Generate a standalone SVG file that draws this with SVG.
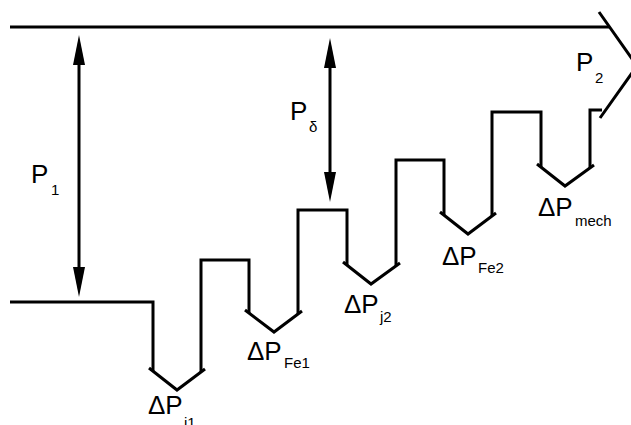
<svg xmlns="http://www.w3.org/2000/svg" width="631" height="425" viewBox="0 0 631 425">
<style>
.ln{fill:none;stroke:#000;stroke-width:3;stroke-linejoin:miter;stroke-linecap:butt}
.ah{fill:#000;stroke:none}
.big{font-family:"Liberation Sans",Arial,sans-serif;font-size:26px;fill:#000}
.sub{font-family:"Liberation Sans",Arial,sans-serif;font-size:15px;fill:#000}
</style>
<rect width="631" height="425" fill="#fff"/>
<g id="power-flow">
<path class="ln" d="M10,27 H610"/>
<polyline class="ln" points="599,12 637,66 600,118"/>
<path class="ln" d="M10,302 H153 V371"/>
<polyline class="ln" points="149,368 177,390 205,369"/>
<path class="ln" d="M201,372 V260 H249 V313"/>
<polyline class="ln" points="245,310 274,332 302,311"/>
<path class="ln" d="M298,314 V210 H347 V265"/>
<polyline class="ln" points="343,262 371,284 400,263"/>
<path class="ln" d="M396,266 V160 H444 V215"/>
<polyline class="ln" points="440,212 468,234 496,213"/>
<path class="ln" d="M492,216 V112 H541 V167"/>
<polyline class="ln" points="537,164 565,186 594,165"/>
<path class="ln" d="M590,168 V110 H602"/>
</g>
<g id="connectors">
<path class="ln" d="M79,60 V272"/>
<polygon class="ah" points="79,35 73,65 85,65"/>
<polygon class="ah" points="79,297 73,267 85,267"/>
<path class="ln" d="M330,63 V177"/>
<polygon class="ah" points="330,38 324,68 336,68"/>
<polygon class="ah" points="330,202 324,172 336,172"/>
</g>
<g id="label-P1"><text class="big" x="31" y="183">P</text><text class="sub" x="51" y="195">1</text></g>
<g id="label-Pdelta"><text class="big" x="290" y="120">P</text><text class="sub" x="309" y="132">δ</text></g>
<g id="label-P2"><text class="big" x="576" y="71">P</text><text class="sub" x="595" y="83">2</text></g>
<g id="label-dPi1"><text class="big" x="148" y="414">ΔP</text><text class="sub" x="184" y="428">i1</text></g>
<g id="label-dPFe1"><text class="big" x="247" y="360">ΔP</text><text class="sub" x="284" y="368">Fe1</text></g>
<g id="label-dPj2"><text class="big" x="344" y="313">ΔP</text><text class="sub" x="380" y="322">j2</text></g>
<g id="label-dPFe2"><text class="big" x="442" y="265">ΔP</text><text class="sub" x="478" y="273">Fe2</text></g>
<g id="label-dPmech"><text class="big" x="538" y="216">ΔP</text><text class="sub" x="575" y="226">mech</text></g>
</svg>
